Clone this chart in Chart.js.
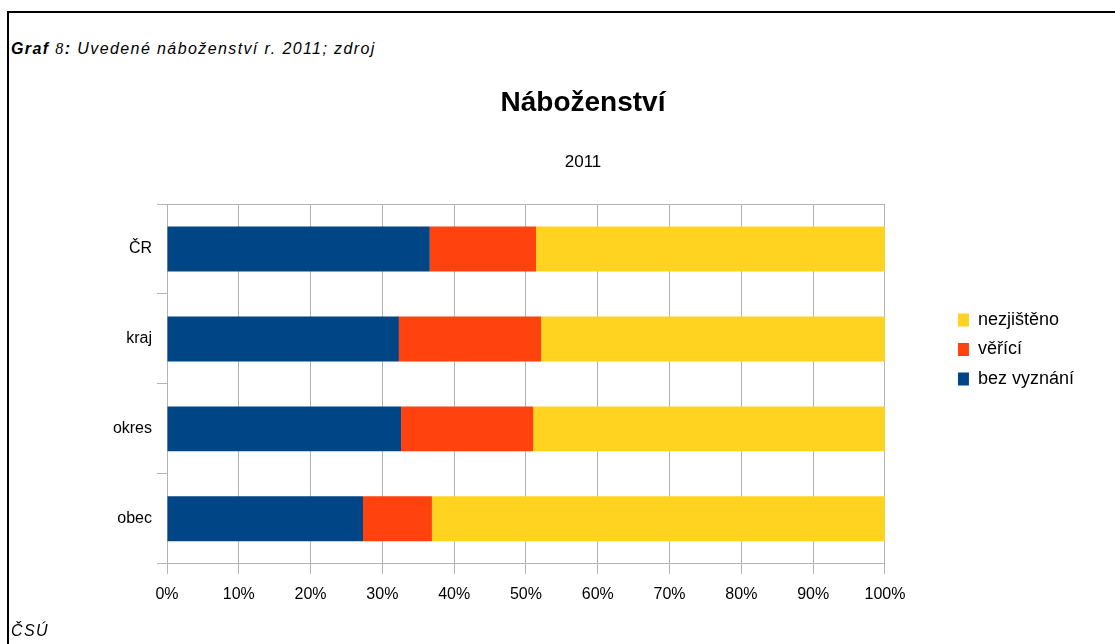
<!DOCTYPE html>
<html>
<head>
<meta charset="utf-8">
<script src="https://cdn.jsdelivr.net/npm/chart.js@4"></script>
<style>
  html, body { margin: 0; padding: 0; background: #fff; overflow: hidden; }
  #frame { position: absolute; left: 7px; top: 11px; width: 1120px; height: 650px;
           border-left: 2px solid #000; border-top: 2px solid #000; }
  #cap { position: absolute; left: 11px; top: 40px; font: italic 16px "Liberation Sans", Arial, sans-serif; letter-spacing: 1.4px; color: #000; white-space: nowrap; }
  #cap b { font-weight: bold; }
  #cap .n { font-family: "Liberation Serif", serif; font-weight: normal; }
  #src { position: absolute; left: 11px; top: 622px; font: italic 16px "Liberation Sans", Arial, sans-serif; letter-spacing: 1.4px; color: #000; }
  #c { position: absolute; left: 10px; top: 14px; }
</style>
</head>
<body>
<div id="frame"></div>
<div id="cap"><b>Graf</b> <span class="n">8</span><b>:</b> Uvedené náboženství r. 2011; zdroj</div>
<canvas id="c" width="1105" height="630"></canvas>
<div id="src">ČSÚ</div>
<script>
const categories = ["ČR", "kraj", "okres", "obec"];
const bezVyznani = [36.6, 32.3, 32.6, 27.3];
const vericí = [14.8, 19.8, 18.4, 9.6];
const nezjisteno = [48.6, 47.9, 49.0, 63.1];
const seriesNames = ["bez vyznání", "věřící", "nezjištěno"];
const xTicks = [0, 10, 20, 30, 40, 50, 60, 70, 80, 90, 100];

Chart.defaults.font.family = '"Liberation Sans", Arial, sans-serif';
Chart.defaults.font.size = 16;
Chart.defaults.color = '#000';

new Chart(document.getElementById('c'), {
  type: 'bar',
  data: {
    labels: categories,
    datasets: [
      { label: seriesNames[0], data: bezVyznani, backgroundColor: '#004586' },
      { label: seriesNames[1], data: vericí, backgroundColor: '#ff420e' },
      { label: seriesNames[2], data: nezjisteno, backgroundColor: '#ffd320' }
    ]
  },
  options: {
    indexAxis: 'y',
    responsive: false,
    animation: false,
    devicePixelRatio: 1,
    layout: { padding: { left: 72, right: 31, top: 0, bottom: 29 } },
    datasets: { bar: { barPercentage: 0.5, categoryPercentage: 1.0 } },
    plugins: {
      title: { display: true, text: 'Náboženství', font: { size: 28, weight: 'bold' }, padding: { top: 72, bottom: 16 } },
      subtitle: { display: true, text: '2011', font: { size: 17 }, padding: { top: 17, bottom: 31 } },
      legend: {
        position: 'right',
        reverse: true,
        title: { display: true, text: ' ', font: { size: 16 }, padding: { top: 25.4, bottom: 25.4 } },
        labels: { boxWidth: 11, boxHeight: 13, padding: 11.5, font: { size: 18 } }
      },
      tooltip: { enabled: false }
    },
    scales: {
      x: {
        stacked: true,
        min: 0, max: 100,
        afterBuildTicks: (s) => { s.ticks = xTicks.map(v => ({ value: v })); },
        ticks: { callback: (v) => v + '%', padding: 11, maxRotation: 0 },
        grid: { color: '#b3b3b3', tickLength: 10, tickColor: '#b3b3b3' },
        border: { color: '#b3b3b3' }
      },
      y: {
        stacked: true,
        ticks: { padding: 5 },
        grid: {
          offset: true,
          drawOnChartArea: true,
          color: (ctx) => (ctx.index === 0 ? '#b3b3b3' : 'rgba(0,0,0,0)'),
          tickColor: '#b3b3b3',
          tickLength: 10
        },
        border: { color: '#b3b3b3' },
        afterFit: (s) => { s.width = 85; }
      },
      y2: {
        type: 'linear',
        position: 'right',
        display: true,
        grid: { display: false },
        border: { display: false },
        ticks: { display: false },
        afterFit: (s) => { s.width = 61.5; }
      }
    }
  }
});
</script>
</body>
</html>
